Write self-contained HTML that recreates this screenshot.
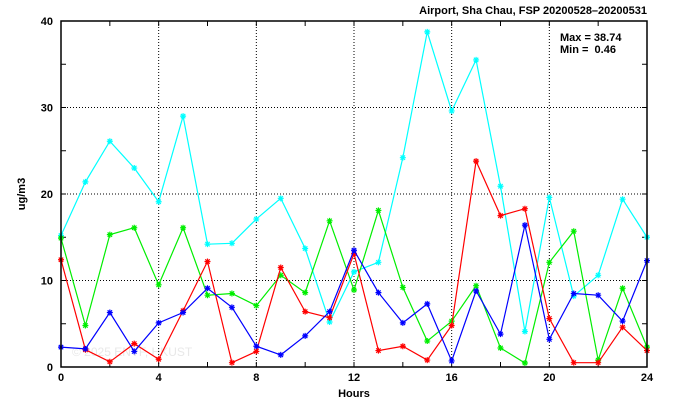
<!DOCTYPE html>
<html><head><meta charset="utf-8"><style>
body{margin:0;background:#fff;width:674px;height:409px;overflow:hidden}
svg text{font-family:"Liberation Sans",sans-serif;font-weight:bold;font-size:11px;fill:#000;white-space:pre}
</style></head><body>
<svg width="674" height="409" id="c">
<text x="647" y="14" text-anchor="end">Airport, Sha Chau, FSP 20200528–20200531</text>
<text x="560" y="41">Max = 38.74</text>
<text x="560" y="53">Min =  0.46</text>
<text x="354" y="397" text-anchor="middle">Hours</text>
<text transform="translate(25,194) rotate(-90)" text-anchor="middle">ug/m3</text>
<text x="72" y="356" style="font-weight:normal;font-size:12px;fill:#e8e8e8">© 2025 ENVF, HKUST</text>
<g id="grid"></g><g id="series"></g>
<rect x="61" y="21" width="586" height="346" fill="none" stroke="#000" stroke-width="1.5"/>
</svg>
<script>
const hours=[0,1,2,3,4,5,6,7,8,9,10,11,12,13,14,15,16,17,18,19,20,21,22,23,24];
const cyanVals=[15.2,21.4,26.1,23.0,19.1,29.0,14.2,14.3,17.1,19.5,13.7,5.2,11.0,12.1,24.2,38.74,29.6,35.5,20.9,4.1,19.6,8.2,10.6,19.4,15.0];
const greenVals=[14.9,4.8,15.3,16.1,9.5,16.1,8.3,8.5,7.1,10.6,8.6,16.9,8.9,18.1,9.2,3.0,5.3,9.4,2.2,0.46,12.1,15.7,0.8,9.1,2.3];
const redVals=[12.4,2.0,0.6,2.7,0.9,6.5,12.2,0.5,1.8,11.5,6.4,5.7,13.1,1.9,2.4,0.8,4.8,23.8,17.5,18.3,5.6,0.5,0.5,4.6,1.9];
const blueVals=[2.3,2.1,6.3,1.8,5.1,6.3,9.1,6.9,2.4,1.4,3.6,6.4,13.5,8.6,5.1,7.3,0.7,8.8,3.8,16.4,3.2,8.5,8.3,5.3,12.3];
const xTicks=[0,4,8,12,16,20,24];
const yTicks=[0,10,20,30,40];
const NS="http://www.w3.org/2000/svg";
const X0=61,X1=647,Y0=367,Y1=21;
const xs=v=>X0+(X1-X0)*v/24, ys=v=>Y0-(Y0-Y1)*v/40;
function mk(t,a,p){const e=document.createElementNS(NS,t);for(const k in a)e.setAttribute(k,a[k]);p.appendChild(e);return e;}
const g=document.getElementById('grid');
for(let h=0;h<=24;h+=2){mk('line',{x1:xs(h),x2:xs(h),y1:Y0,y2:Y0-5,stroke:'#000'},g);mk('line',{x1:xs(h),x2:xs(h),y1:Y1,y2:Y1+5,stroke:'#000'},g);}
for(let v=0;v<=40;v+=5){mk('line',{x1:X0,x2:X0+5,y1:ys(v),y2:ys(v),stroke:'#000'},g);mk('line',{x1:X1,x2:X1-5,y1:ys(v),y2:ys(v),stroke:'#000'},g);}
xTicks.forEach(h=>{
 if(h>0&&h<24){const l=mk('line',{x1:xs(h),x2:xs(h),y1:Y0,y2:Y1,stroke:'#000','stroke-dasharray':'1,2'},g);
 }
 const t=mk('text',{x:xs(h),y:381,'text-anchor':'middle'},g);t.textContent=h;
 
});
yTicks.forEach(v=>{
 if(v>0&&v<40){const l=mk('line',{x1:X0,x2:X1,y1:ys(v),y2:ys(v),stroke:'#000','stroke-dasharray':'1,2'},g);
 }
 const t=mk('text',{x:53,y:ys(v)+4,'text-anchor':'end'},g);t.textContent=v;
 
});
const s=document.getElementById('series');
[[cyanVals,'#00ffff','cyan'],[greenVals,'#00ee00','green'],[redVals,'#ff0000','red'],[blueVals,'#0000ff','blue']].forEach(([vals,col,nm])=>{
 const pts=vals.map((v,i)=>xs(hours[i])+','+ys(v)).join(' ');
 const pl=mk('polyline',{points:pts,fill:'none',stroke:col,'stroke-width':1.2},s);
 
 vals.forEach((v,i)=>{const x=xs(hours[i]),y=ys(v);
  const m=mk('path',{d:`M${x-3},${y}H${x+3}M${x},${y-3}V${y+3}M${x-2.2},${y-2.2}L${x+2.2},${y+2.2}M${x-2.2},${y+2.2}L${x+2.2},${y-2.2}`,stroke:col,'stroke-width':1.2},s);
  });
});
</script>
</body></html>
